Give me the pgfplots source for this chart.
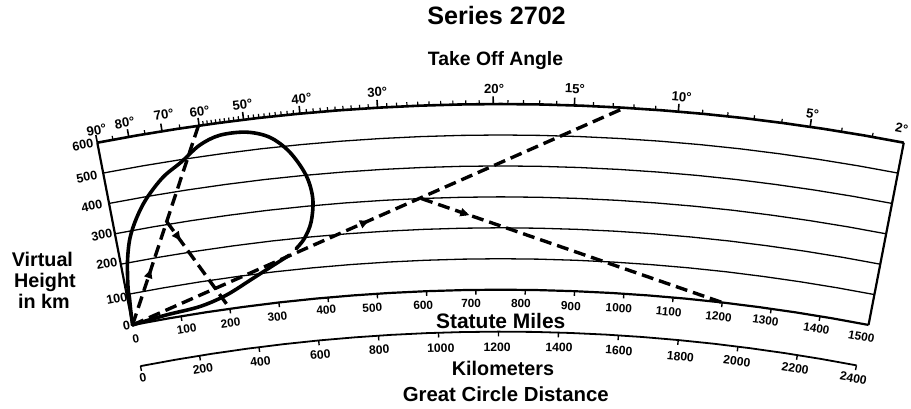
\documentclass[border=0pt]{standalone}
\usepackage{fontspec}
\setmainfont{Liberation Sans}
\usepackage{pgfplots}
\pgfplotsset{compat=1.18}
\usepackage{pgfplotstable}
\usetikzlibrary{decorations.markings,arrows.meta}
\newcommand\fs[1]{\fontsize{#1}{#1}\selectfont}
\pgfplotsset{
  table/geo/.style={row sep=\\, x expr={gx(\thisrow{d},\thisrow{h})}, y expr={gy(\thisrow{d},\thisrow{h})}},
  table/arc/.style={x expr={gx(\thisrow{d},#1)}, y expr={gy(\thisrow{d},#1)}},
}
% ground distances (km) along the height arcs, 0 .. 1500 statute miles
\pgfplotstableread[row sep=\\]{d h\\ 0 0\\ 120.7 0\\ 241.4 0\\ 362.1 0\\ 482.8 0\\ 603.5 0\\ 724.2 0\\ 844.9 0\\ 965.6 0\\ 1086.3 0\\ 1207 0\\ 1327.7 0\\ 1448.4 0\\ 1569.1 0\\ 1689.8 0\\ 1810.5 0\\ 1931.2 0\\ 2051.9 0\\ 2172.6 0\\ 2293.3 0\\ 2414 0\\}\arcd
\pgfplotstableread[row sep=\\]{d h\\ 0 0\\ 120 0\\ 240 0\\ 360 0\\ 480 0\\ 600 0\\ 720 0\\ 840 0\\ 960 0\\ 1080 0\\ 1200 0\\ 1320 0\\ 1440 0\\ 1560 0\\ 1680 0\\ 1800 0\\ 1920 0\\ 2040 0\\ 2160 0\\ 2280 0\\ 2400 0\\}\kmd
\begin{document}
\begin{tikzpicture}[
  declare function={gx(\p,\q)=501.5+(1942+0.31*\q)*sin((\p-1207)*0.009068);
                    gy(\p,\q)=2230-(1942+0.31*\q)*cos((\p-1207)*0.009068);},
  hl/.style={font=\bfseries\fs{6.3}, rotate=10.9},
  ml/.style={font=\bfseries\fs{5.9}},
  kl/.style={font=\bfseries\fs{6.1}},
  al/.style={font=\bfseries\fs{6.6}},
  ttl/.style={font=\bfseries\fs{#1}, anchor=base},
  arr/.style={postaction={decorate}, decoration={markings, mark=at position #1 with {\arrow{Triangle[length=4.5pt,width=4pt]}}}},
  dashray/.style={line width=1.7pt, dash pattern=on 6pt off 3pt},
]
\begin{axis}[scale only axis, width=455.5pt, height=203.5pt,
  xmin=0, xmax=911, ymin=0, ymax=407, y dir=reverse,
  axis lines=none, clip=false]
\addplot[draw=none] coordinates {(0,0) (911,407)};
% height arcs
\addplot[line width=0.65pt] table[arc=100] {\arcd};
\addplot[line width=0.65pt] table[arc=200] {\arcd};
\addplot[line width=0.65pt] table[arc=300] {\arcd};
\addplot[line width=0.65pt] table[arc=400] {\arcd};
\addplot[line width=0.65pt] table[arc=500] {\arcd};
\addplot[line width=1.1pt] table[arc=0] {\arcd};
\addplot[line width=1.3pt] table[arc=600] {\arcd};
% side edges
\addplot[line width=1.1pt] table[geo] {d h\\ 0 0\\ 0 600\\};
\addplot[line width=1.1pt] table[geo] {d h\\ 2414 0\\ 2414 600\\};
% kilometre arc
\addplot[line width=0.9pt] table[arc=-135.5] {\kmd};
% take-off angle ticks
\pgfplotsinvokeforeach{0,95.1,195.5,307.2,440.5,609.1,840.5,1185.2,1427.1,1736.5,2131.5}{
  \addplot[line width=0.8pt] table[geo] {d h\\ #1 600\\ #1 625\\};
}
\pgfplotsinvokeforeach{47.2,144.1,249.3,319.7,331.9,344.5,357.4,370.4,383.7,397.3,411.3,425.9,455.6,470.9,486.5,502.6,519.1,535.8,553.2,571.5,590.0,628.8,649.2,670.3,692.0,714.6,738.2,762.5,787.8,813.3,868.5,897.9,928.5,960.6,994.2,1028.9,1065.3,1103.4,1143.4,1228.9,1275.0,1323.3,1373.9,1483.2,1542.0,1603.8,1668.6,1808.7,1884.0,1963.1,2046.0,2226.0,2319.0}{
  \addplot[line width=0.6pt] table[geo] {d h\\ #1 600\\ #1 613\\};
}
% statute mile ticks
\pgfplotsinvokeforeach{160.9,321.9,482.8,643.7,804.7,965.6,1126.5,1287.5,1448.4,1609.3,1770.3,1931.2,2092.1,2253.1}{
  \addplot[line width=0.7pt] table[geo] {d h\\ #1 0\\ #1 -15\\};
}
% kilometre ticks
\pgfplotsinvokeforeach{0,200,400,600,800,1000,1200,1400,1600,1800,2000,2200,2400}{
  \addplot[line width=0.7pt] table[geo] {d h\\ #1 -135.5\\ #1 -151\\};
}
% solid ray trace
\addplot[line width=1.8pt, smooth, tension=0.55, line cap=round, line join=round] table[geo] {d h\\
 0 0\\ 3 45\\ 7 90\\ 8.2 119\\ 22 203\\ 43 276\\ 74 336\\ 115 393\\ 176 453\\ 238 492\\ 300 537\\ 364 560\\ 444 559\\ 512 534\\ 567 480\\ 610 400\\ 624 323\\ 612 248\\ 586 197\\ 557 167\\};
\addplot[line width=1.8pt, smooth, tension=0.55, line cap=round] table[geo] {d h\\
 0 0\\ 114 12\\ 225 21\\ 316 45\\ 408 87\\ 488 126\\ 533 148\\};
% dashed rays
\addplot[dashray, arr=0.28] table[geo] {d h\\ 0 0\\ 305 600\\};
\addplot[dashray, arr=0.22] table[geo] {d h\\ 165 310\\ 322 0\\};
\addplot[dashray, arr=0.48] table[geo] {d h\\ 0 0\\ 1577 600\\};
\addplot[dashray, arr=0.16] table[geo] {d h\\ 960 300\\ 1931 0\\};
% height labels
\node[hl] at (axis cs:83,143) {600};
\node[hl] at (axis cs:87,175) {500};
\node[hl] at (axis cs:92,204) {400};
\node[hl] at (axis cs:102,233) {300};
\node[hl] at (axis cs:107,262) {200};
\node[hl] at (axis cs:117,297) {100};
\node[hl] at (axis cs:126.7,324) {0};
% take-off angle labels
\node[al,rotate=10.9] at (axis cs:96.7,128.3) {90°};
\node[al,rotate=10.1] at (axis cs:125,120.8) {80°};
\node[al,rotate=9.2] at (axis cs:164,112.5) {70°};
\node[al,rotate=8.2] at (axis cs:200,110) {60°};
\node[al,rotate=6.9] at (axis cs:243,103) {50°};
\node[al,rotate=5.4] at (axis cs:302,96.7) {40°};
\node[al,rotate=3.3] at (axis cs:378,90) {30°};
\node[al,rotate=0.2] at (axis cs:495,86.7) {20°};
\node[al,rotate=-2] at (axis cs:576,86.7) {15°};
\node[al,rotate=-4.8] at (axis cs:683,95) {10°};
\node[al,rotate=-8.4] at (axis cs:814,111.7) {5°};
\node[al,rotate=-11,anchor=east,inner xsep=0.5pt] at (axis cs:911,128) {2°};
% statute miles labels
\node[ml,rotate=10.9] at (axis cs:136,337.5) {0};
\node[ml,rotate=9.5] at (axis cs:187,327) {100};
\node[ml,rotate=8.0] at (axis cs:231,321.5) {200};
\node[ml,rotate=6.6] at (axis cs:278,315) {300};
\node[ml,rotate=5.1] at (axis cs:327,308.3) {400};
\node[ml,rotate=3.6] at (axis cs:373,306.5) {500};
\node[ml,rotate=2.2] at (axis cs:424,303.5) {600};
\node[ml,rotate=0.7] at (axis cs:472,301.7) {700};
\node[ml,rotate=-0.7] at (axis cs:522,301.7) {800};
\node[ml,rotate=-2.2] at (axis cs:572,304.5) {900};
\node[ml,rotate=-3.6] at (axis cs:620,306.7) {1000};
\node[ml,rotate=-5.1] at (axis cs:670,310) {1100};
\node[ml,rotate=-6.6] at (axis cs:720,315) {1200};
\node[ml,rotate=-8.0] at (axis cs:767,318.5) {1300};
\node[ml,rotate=-9.5] at (axis cs:818,326.7) {1400};
\node[ml,rotate=-10.9] at (axis cs:863,335) {1500};
% kilometre labels
\node[kl,rotate=10.9] at (axis cs:143.3,376.5) {0};
\node[kl,rotate=9.1] at (axis cs:203.3,367.5) {200};
\node[kl,rotate=7.3] at (axis cs:261,360) {400};
\node[kl,rotate=5.5] at (axis cs:321,353.3) {600};
\node[kl,rotate=3.7] at (axis cs:380,348.3) {800};
\node[kl,rotate=1.9] at (axis cs:441.7,346.7) {1000};
\node[kl,rotate=0.1] at (axis cs:498,345.8) {1200};
\node[kl,rotate=-1.8] at (axis cs:560,345.8) {1400};
\node[kl,rotate=-3.6] at (axis cs:620,349) {1600};
\node[kl,rotate=-5.4] at (axis cs:681.7,355) {1800};
\node[kl,rotate=-7.2] at (axis cs:738.3,360) {2000};
\node[kl,rotate=-9.0] at (axis cs:796.7,366.7) {2200};
\node[kl,rotate=-10.8] at (axis cs:855,376.7) {2400};
% titles
\node[ttl=12.6] at (axis cs:497.5,22.7) {Series 2702};
\node[ttl=9.7] at (axis cs:496.5,63.3) {Take Off Angle};
\node[ttl=10.5] at (axis cs:501.7,327) {Statute Miles};
\node[ttl=9.9] at (axis cs:504,374) {Kilometers};
\node[ttl=10.2] at (axis cs:506.7,400.5) {Great Circle Distance};
\node[ttl=9.9] at (axis cs:42.5,265) {Virtual};
\node[ttl=9.9] at (axis cs:45,285.5) {Height};
\node[ttl=9.9] at (axis cs:44,306.5) {in km};
\end{axis}
\end{tikzpicture}
\end{document}
